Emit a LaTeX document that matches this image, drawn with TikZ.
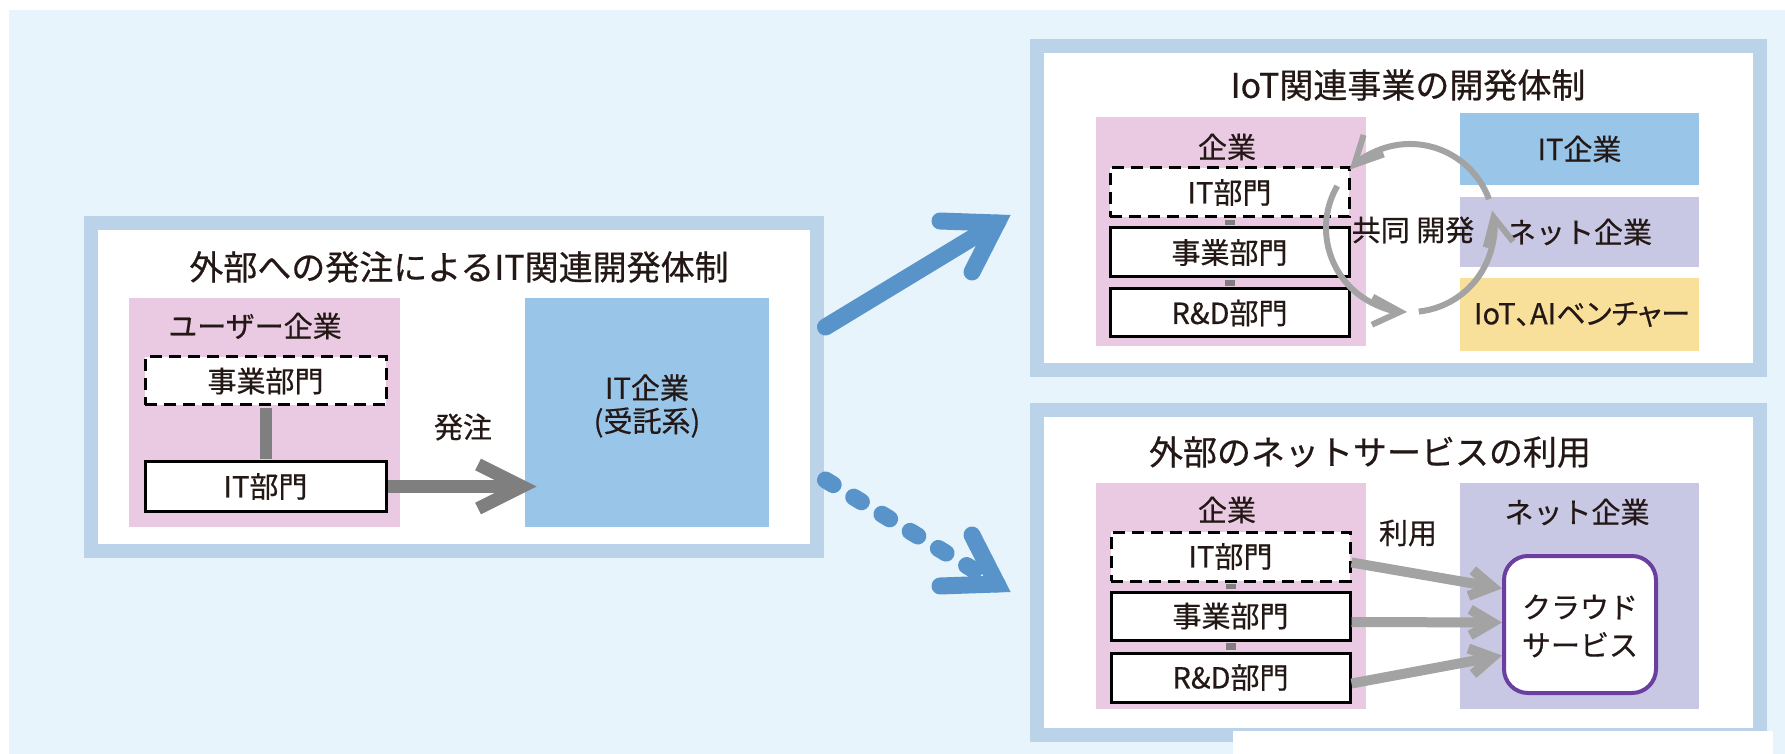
\documentclass[tikz,border=0pt]{standalone}
\usepackage{fontspec}
\setmainfont{Noto Sans CJK JP}[FakeBold=0.5]
\newfontfamily\jpp{Noto Sans CJK JP}[RawFeature=+palt,FakeBold=0.5]
\usetikzlibrary{arrows.meta,fit,calc}
\definecolor{bgblue}{HTML}{E7F4FC}
\definecolor{band}{HTML}{BAD3E9}
\definecolor{pinkc}{HTML}{E9CAE2}
\definecolor{bluec}{HTML}{99C5E9}
\definecolor{purc}{HTML}{C9C8E4}
\definecolor{yelc}{HTML}{F8E09B}
\definecolor{arrowblue}{HTML}{5894C9}
\definecolor{dgray}{HTML}{7F7F7F}
\definecolor{lgray}{HTML}{A3A3A3}
\definecolor{cloudc}{HTML}{6B3FA0}
\definecolor{ink}{HTML}{231815}
\begin{document}
\begin{tikzpicture}[x=0.5pt,y=-0.5pt,
  area/.style={inner sep=0pt, draw=none},
  frame/.style={draw=band, line width=7pt, fill=white, inner sep=0pt},
  box/.style={draw=black, line width=1.5pt, fill=white, inner sep=0pt},
  dbox/.style={box, dash pattern=on 6pt off 3.5pt},
  txt/.style={text=ink, inner sep=0pt, font=\fontsize{14.5pt}{17pt}\selectfont},
  ttl/.style={text=ink, inner sep=0pt, font=\fontsize{17pt}{20pt}\selectfont},
  link/.style={draw=dgray, line width=6pt, shorten <=0.75pt, shorten >=0.75pt},
  slink/.style={draw=dgray, line width=5pt, shorten <=0.75pt, shorten >=0.75pt},
  garrow/.style={draw=dgray, line width=6.5pt, -{Straight Barb[length=22pt,width=22pt]}},
  rarrow/.style={draw=lgray, line width=5pt, -{Straight Barb[length=11pt,width=13pt]}},
  carc/.style={draw=lgray, line width=3pt, -{Straight Barb[length=14pt,width=14pt]}},
  bline/.style={draw=arrowblue, line width=8.5pt, line cap=round, line join=miter}
]
\useasboundingbox (0,0) rectangle (1785,754);
\fill[white] (0,0) rectangle (1785,754);
\fill[bgblue] (9,10) rectangle (1785,754);

% frames
\node[frame, fit={(90.5,223.5) (816.5,550.5)}] (frameL) {};
\node[frame, fit={(1037,46) (1760,370)}] (frameT) {};
\node[frame, fit={(1037,410) (1760,735)}] (frameB) {};

% ---------- left ----------
\node[ttl] (titleL) at (459,267) {外部への発注によるIT関連開発体制};
\node[area, fill=pinkc, fit={(129,298) (400,527)}] (pinkL) {};
\node[txt] (userL) at (255,326) {ユーザー企業};
\node[dbox, fit={(145,357) (386,405)}] (jigyoL) {};
\node[txt] (jigyoLt) at (jigyoL.center) {事業部門};
\node[box, fit={(145,462) (386,511)}] (itL) {};
\node[txt] (itLt) at (itL.center) {IT部門};
\draw[link] (jigyoL.south) -- (itL.north);
\node[area, fill=bluec, fit={(525,298) (769,527)}] (itcoL) {};
\node[txt, align=center, font=\fontsize{14.5pt}{16.5pt}\selectfont] (itcoLt) at (647,406) {IT企業\\(受託系)};
\node[txt] (orderL) at (463,427) {発注};
\draw[garrow, shorten >=-6pt] (itL.east) -- (itL.east -| itcoL.west);

% ---------- top right ----------
\node[ttl] (titleT) at (1408,85) {IoT関連事業の開発体制};
\node[area, fill=pinkc, fit={(1096,117) (1366,346)}] (pinkT) {};
\node[txt] (kigyoT) at (1227,147) {企業};
\node[dbox, fit={(1110,168) (1349,217)}] (itT) {};
\node[txt] (itTt) at (itT.center) {IT部門};
\node[box, fit={(1110,228) (1349,277)}] (jigyoT) {};
\node[txt] (jigyoTt) at (jigyoT.center) {事業部門};
\node[box, fit={(1110,289) (1349,337)}] (rdT) {};
\node[txt] (rdTt) at (rdT.center) {R\&D部門};
\draw[slink] (itT.south) -- (jigyoT.north);
\draw[slink] (jigyoT.south) -- (rdT.north);
\node[area, fill=bluec, fit={(1460,113) (1699,185)}] (itcoT) {};
\node[txt] (itcoTt) at (itcoT.center) {IT企業};
\node[area, fill=purc, fit={(1460,197) (1699,267)}] (netT) {};
\node[txt] (netTt) at (netT.center) {ネット企業};
\node[area, fill=yelc, fit={(1460,278) (1699,351)}] (ventT) {};
\node[txt, font=\jpp\fontsize{14.5pt}{17pt}\selectfont] (ventTt) at (1582,314.5) {IoT、AIベンチャー};
\coordinate (cc) at (1410,228);
\draw[carc] (cc) ++(20:42pt) arc[start angle=20, end angle=136, radius=42pt];
\draw[carc] (cc) ++(150:42pt) arc[start angle=150, end angle=268, radius=42pt];
\draw[carc] (cc) ++(276:42pt) arc[start angle=276, end angle=372, radius=42pt];
\node[txt] (kyodo) at (1413,230) {共同 開発};

% ---------- bottom right ----------
\node[ttl] (titleB) at (1370,452) {外部のネットサービスの利用};
\node[area, fill=pinkc, fit={(1096,483) (1366,709)}] (pinkB) {};
\node[txt] (kigyoB) at (1227,510) {企業};
\node[dbox, fit={(1111,532) (1350,581)}] (itB) {};
\node[txt] (itBt) at (itB.center) {IT部門};
\node[box, fit={(1111,592) (1350,640)}] (jigyoB) {};
\node[txt] (jigyoBt) at (jigyoB.center) {事業部門};
\node[box, fit={(1111,653) (1350,702)}] (rdB) {};
\node[txt] (rdBt) at (rdB.center) {R\&D部門};
\draw[slink] (itB.south) -- (jigyoB.north);
\draw[slink] (jigyoB.south) -- (rdB.north);
\node[area, fill=purc, fit={(1460,483) (1699,709)}] (netB) {};
\node[txt] (netBt) at (1577,512) {ネット企業};
\node[draw=cloudc, line width=2pt, fill=white, rounded corners=12pt, inner sep=0pt, fit={(1504,556) (1656,693)}] (cloud) {};
\node[txt, align=center, font=\fontsize{14.5pt}{19pt}\selectfont] (cloudt) at (1580,626) {クラウド\\サービス};
\node[txt] (riyo) at (1408,533) {利用};
\draw[rarrow] ([yshift=-3pt]itB.east) -- ($(cloud.west)+(0,-36)$);
\draw[rarrow] ([yshift=-3pt]jigyoB.east) -- ($(cloud.west)+(0,-2)$);
\draw[rarrow] ([yshift=-3pt]rdB.east) -- ($(cloud.west)+(0,31)$);

% ---------- blue arrows ----------
\coordinate (s1) at ($(frameL.east)+(2,-60)$);
\coordinate (v1) at (997,223);
\coordinate (s2) at ($(frameL.east)+(2,93)$);
\coordinate (v2) at (997,584);
\draw[bline] (s1) -- (v1);
\draw[bline] ($(v1)+(-57,-2)$) -- (v1) -- ($(v1)+(-25,49)$);
\draw[bline, dash pattern=on 4.5pt off 12pt] (s2) -- (v2);
\draw[bline] ($(v2)+(-57,2)$) -- (v2) -- ($(v2)+(-25,-49)$);

\fill[white] (1233,731) rectangle (1773,754);
\end{tikzpicture}
\end{document}
